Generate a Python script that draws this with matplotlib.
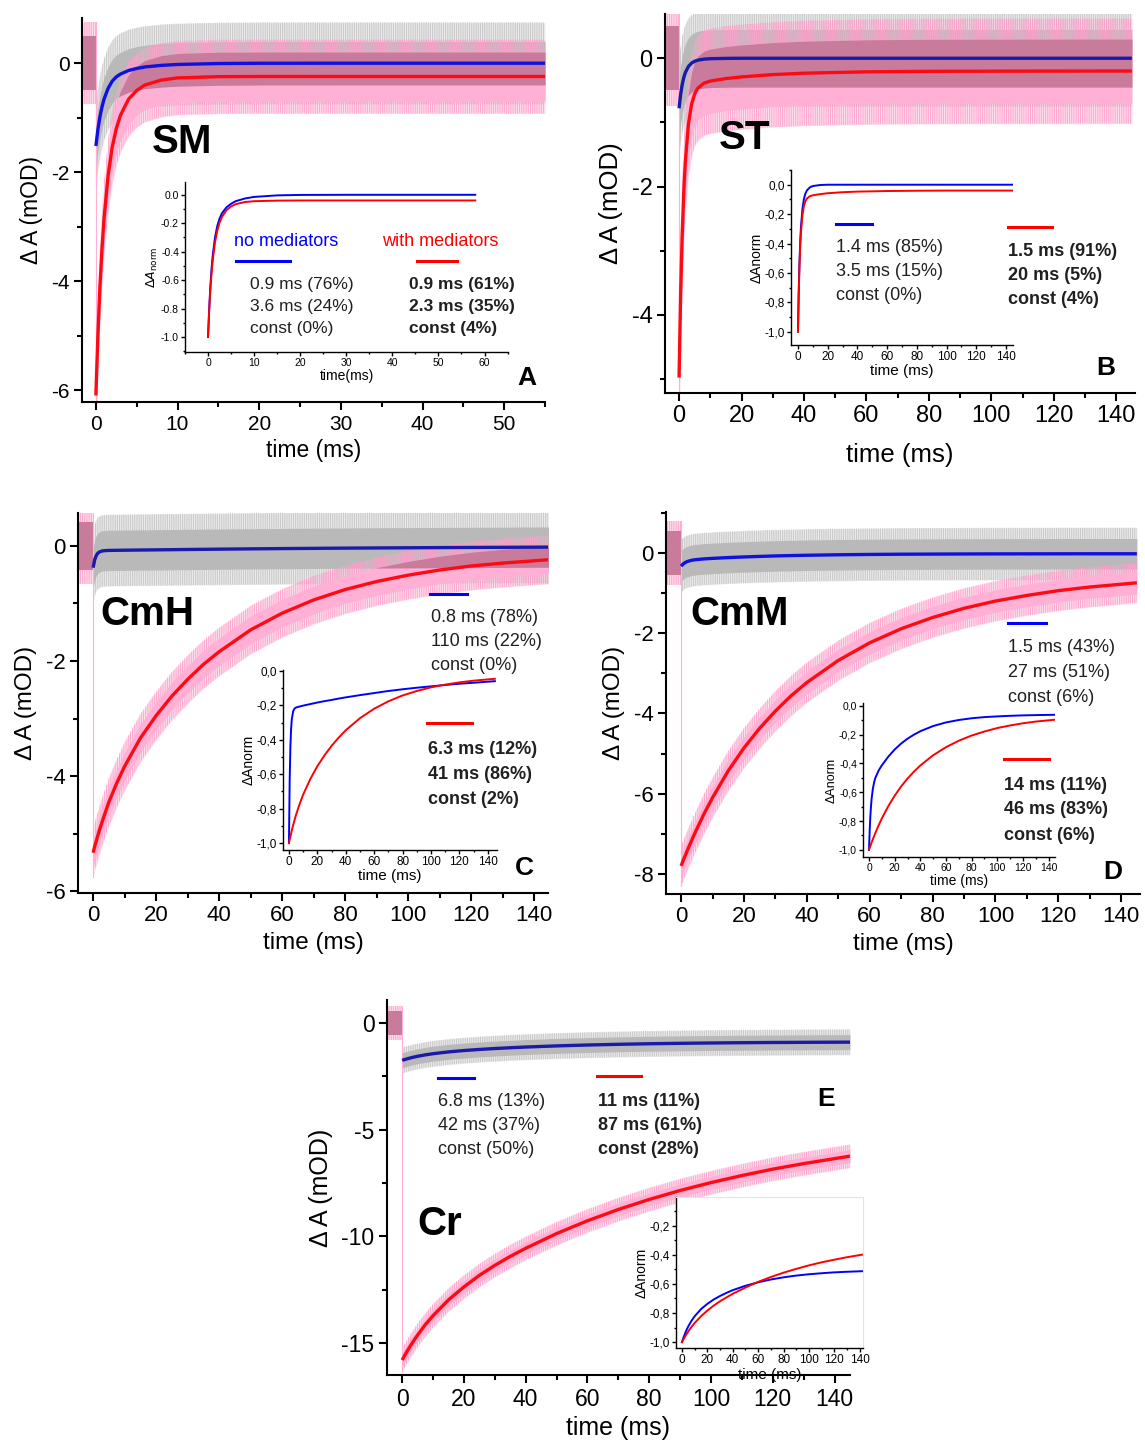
import numpy as np
import matplotlib
matplotlib.use('Agg')
import matplotlib.pyplot as plt
from matplotlib.ticker import MultipleLocator, FuncFormatter
from matplotlib.lines import Line2D

plt.rcParams['font.family'] = ['Liberation Sans', 'DejaVu Sans']
plt.rcParams['axes.unicode_minus'] = False
plt.rcParams['hatch.linewidth'] = 0.6

W, H = 1145, 1442

# ---- data (time in ms, signal in mOD) ----
# panel A (SM)
A_t = [0, 0.25, 0.5, 0.75, 1, 1.5, 2, 2.5, 3, 4, 5, 6, 8, 10, 15, 20, 30, 55]
A_blue = [-1.52, -1.215, -0.98, -0.80, -0.66, -0.46, -0.33, -0.25, -0.20, -0.134, -0.096,
          -0.069, -0.04, -0.023, -0.006, -0.001, 0, 0]
A_red = [-6.1, -4.98, -4.09, -3.40, -2.85, -2.06, -1.54, -1.20, -0.96, -0.66, -0.50,
         -0.40, -0.31, -0.27, -0.247, -0.244, -0.244, -0.244]
A_in_t = [0, 0.25, 0.5, 0.75, 1, 1.5, 2, 2.5, 3, 4, 5, 6, 8, 10, 15, 20, 30, 58]
A_in_blue = [-1, -0.80, -0.645, -0.525, -0.432, -0.302, -0.22, -0.167, -0.131, -0.088,
             -0.063, -0.045, -0.026, -0.015, -0.004, -0.001, 0, 0]
A_in_red = [-1, -0.816, -0.671, -0.558, -0.467, -0.337, -0.253, -0.196, -0.157, -0.108,
            -0.082, -0.066, -0.051, -0.045, -0.041, -0.04, -0.04, -0.04]

# panel B (ST)
B_t = [0, 0.5, 1, 1.5, 2, 3, 4, 5, 6, 8, 10, 15, 20, 30, 40, 60, 80, 100, 145]
B_blue = [-0.78, -0.566, -0.413, -0.303, -0.225, -0.128, -0.076, -0.047, -0.030, -0.014,
          -0.007, -0.002, 0, 0, 0, 0, 0, 0, 0]
B_red = [-4.98, -3.69, -2.76, -2.10, -1.62, -1.03, -0.72, -0.555, -0.467, -0.388, -0.356,
         -0.317, -0.291, -0.255, -0.233, -0.212, -0.204, -0.202, -0.199]
B_in_blue = [-1, -0.725, -0.529, -0.389, -0.289, -0.164, -0.097, -0.060, -0.039, -0.018,
             -0.009, -0.002, 0, 0, 0, 0, 0, 0, 0]
B_in_red = [-1, -0.741, -0.555, -0.421, -0.325, -0.206, -0.144, -0.112, -0.094, -0.078,
            -0.072, -0.064, -0.058, -0.051, -0.047, -0.043, -0.041, -0.040, -0.040]

# panels C, D, E share one time grid
t_slow = [0, 0.5, 1, 1.5, 2, 3, 4, 5, 7.5, 10, 15, 20, 25, 30, 35, 40, 50, 60, 70, 80,
          90, 100, 110, 120, 130, 145]

C_blue = [-0.38, -0.242, -0.168, -0.128, -0.106, -0.088, -0.0825, -0.080, -0.078, -0.076,
          -0.073, -0.070, -0.067, -0.064, -0.061, -0.058, -0.053, -0.048, -0.044, -0.040,
          -0.037, -0.034, -0.031, -0.028, -0.026, -0.022]
C_red = [-5.33, -5.22, -5.13, -5.03, -4.94, -4.77, -4.61, -4.45, -4.12, -3.83, -3.34, -2.95,
         -2.61, -2.32, -2.06, -1.84, -1.46, -1.17, -0.94, -0.76, -0.62, -0.51, -0.42, -0.35,
         -0.30, -0.24]
C_in_blue = [-1, -0.636, -0.442, -0.336, -0.280, -0.232, -0.217, -0.212, -0.206, -0.201,
             -0.192, -0.183, -0.175, -0.168, -0.160, -0.153, -0.140, -0.128, -0.116, -0.106,
             -0.097, -0.089, -0.081, -0.074, -0.068, -0.059]
C_in_red = [-1, -0.980, -0.962, -0.944, -0.926, -0.894, -0.864, -0.835, -0.773, -0.718,
            -0.628, -0.553, -0.490, -0.435, -0.387, -0.344, -0.274, -0.219, -0.176, -0.142,
            -0.116, -0.095, -0.079, -0.066, -0.056, -0.045]

D_blue = [-0.33, -0.287, -0.255, -0.231, -0.214, -0.190, -0.175, -0.165, -0.148, -0.136,
          -0.116, -0.100, -0.087, -0.075, -0.066, -0.058, -0.046, -0.038, -0.032, -0.029,
          -0.026, -0.024, -0.023, -0.022, -0.021, -0.021]
D_red = [-7.8, -7.70, -7.60, -7.51, -7.41, -7.23, -7.05, -6.88, -6.47, -6.10, -5.43, -4.86,
         -4.37, -3.94, -3.56, -3.23, -2.68, -2.24, -1.89, -1.61, -1.38, -1.20, -1.06, -0.94,
         -0.85, -0.745]
D_in_blue = [-1, -0.869, -0.772, -0.701, -0.647, -0.575, -0.530, -0.499, -0.449, -0.413,
             -0.353, -0.303, -0.262, -0.228, -0.200, -0.176, -0.140, -0.115, -0.098, -0.086,
             -0.078, -0.073, -0.069, -0.066, -0.064, -0.062]
D_in_red = [-1, -0.987, -0.975, -0.962, -0.950, -0.926, -0.904, -0.882, -0.830, -0.782,
            -0.697, -0.624, -0.560, -0.505, -0.457, -0.414, -0.343, -0.287, -0.242, -0.206,
            -0.178, -0.154, -0.136, -0.121, -0.109, -0.096]

E_blue = [-1.75, -1.726, -1.704, -1.682, -1.662, -1.624, -1.590, -1.559, -1.492, -1.438,
          -1.353, -1.289, -1.238, -1.195, -1.158, -1.125, -1.072, -1.030, -0.997, -0.971,
          -0.951, -0.935, -0.922, -0.912, -0.904, -0.895]
E_red = [-15.8, -15.67, -15.54, -15.41, -15.29, -15.06, -14.84, -14.63, -14.14, -13.72,
         -12.98, -12.37, -11.83, -11.36, -10.94, -10.56, -9.87, -9.27, -8.74, -8.27, -7.85,
         -7.48, -7.15, -6.85, -6.59, -6.24]
E_in_blue = [-1, -0.986, -0.974, -0.961, -0.950, -0.928, -0.909, -0.891, -0.853, -0.822,
             -0.773, -0.737, -0.707, -0.683, -0.662, -0.643, -0.613, -0.589, -0.570, -0.555,
             -0.543, -0.534, -0.527, -0.521, -0.517, -0.512]
E_in_red = [-1, -0.992, -0.983, -0.976, -0.968, -0.953, -0.939, -0.926, -0.895, -0.868,
            -0.822, -0.783, -0.749, -0.719, -0.693, -0.668, -0.625, -0.586, -0.553, -0.523,
            -0.497, -0.473, -0.452, -0.434, -0.417, -0.395]

# noise half-widths (core, spikes) of the raw traces, and of the pre-trigger part
A_noise = dict(gray=(0.40, 0.75), pink=(0.45, 0.68), pre=0.5)
B_noise = dict(gray=(0.45, 0.75), pink=(0.50, 0.82), pre=0.5)
C_noise = dict(gray=(0.35, 0.62), pink=(0.24, 0.42), pre=0.42)
D_noise = dict(gray=(0.38, 0.65), pink=(0.28, 0.50), pre=0.55)
E_noise = dict(gray=(0.35, 0.60), pink=(0.30, 0.55), pre=0.55)

# fit results printed in the panels
A_fit_blue = ["0.9 ms (76%)", "3.6 ms (24%)", "const (0%)"]
A_fit_red = ["0.9 ms (61%)", "2.3 ms (35%)", "const (4%)"]
B_fit_blue = ["1.4 ms (85%)", "3.5 ms (15%)", "const (0%)"]
B_fit_red = ["1.5 ms (91%)", "20 ms (5%)", "const (4%)"]
C_fit_blue = ["0.8 ms (78%)", "110 ms (22%)", "const (0%)"]
C_fit_red = ["6.3 ms (12%)", "41 ms (86%)", "const (2%)"]
D_fit_blue = ["1.5 ms (43%)", "27 ms (51%)", "const (6%)"]
D_fit_red = ["14 ms (11%)", "46 ms (83%)", "const (6%)"]
E_fit_blue = ["6.8 ms (13%)", "42 ms (37%)", "const (50%)"]
E_fit_red = ["11 ms (11%)", "87 ms (61%)", "const (28%)"]

GRAY = '#b9b9b9'
GRAY_SPK = '#c4c4c4'
PINK = '#ffb0d4'
PINK_SPK = '#ffa0cc'
MAUVE = '#c97b9c'
BLUE = '#1010e0'
NAVY = '#1a1aa8'
RED = '#ff0a14'

fig = plt.figure(figsize=(W / 100, H / 100), dpi=100)


def px_box(l, t, r, b):
    return [l / W, 1 - b / H, (r - l) / W, (b - t) / H]


def ftext(x, y, s, **kw):
    kw.setdefault('va', 'center')
    fig.text(x / W, 1 - y / H, s, **kw)


def swatch(x1, x2, y, color):
    fig.add_artist(Line2D([x1 / W, x2 / W], [1 - y / H] * 2, transform=fig.transFigure,
                          color=color, lw=2.2))


def style(ax, xmaj, ymaj, size, lw, length, pad=3):
    for s in ['top', 'right']:
        ax.spines[s].set_visible(False)
    for s in ['left', 'bottom']:
        ax.spines[s].set_linewidth(lw)
    ax.xaxis.set_major_locator(MultipleLocator(xmaj))
    ax.xaxis.set_minor_locator(MultipleLocator(xmaj / 2))
    ax.yaxis.set_major_locator(MultipleLocator(ymaj))
    ax.yaxis.set_minor_locator(MultipleLocator(ymaj / 2))
    ax.tick_params(which='major', direction='out', length=length, width=lw,
                   labelsize=size, pad=pad)
    ax.tick_params(which='minor', direction='out', length=length * 0.55, width=lw)


def hatched(ax, x, lo, hi, color):
    # spiky outer part of a noisy trace: faint fill plus dense vertical strokes
    ax.fill_between(x, lo, hi, color=color, alpha=0.3, lw=0)
    with plt.rc_context({'hatch.color': color}):
        ax.fill_between(x, lo, hi, facecolor='none', edgecolor=color, hatch='|||||||||', lw=0)


def traces(ax, t, blue, red, noise, x0, bcol):
    t = np.asarray(t, float)
    b = np.asarray(blue, float)
    r = np.asarray(red, float)
    ga, gs = noise['gray']
    pa, ps = noise['pink']
    pre = noise['pre']
    hatched(ax, t, b - gs, b + gs, GRAY_SPK)
    ax.fill_between(t, b - ga, b + ga, color=GRAY, lw=0)
    hatched(ax, t, r - ps, r + ps, PINK_SPK)
    ax.fill_between(t, r - pa, r + pa, color=PINK, lw=0)
    lo = np.maximum(b - ga, r - pa)
    hi = np.minimum(b + ga, r + pa)
    ax.fill_between(t, lo, hi, where=hi > lo, interpolate=True, color=MAUVE, lw=0)
    hatched(ax, [x0, 0], [-pre - 0.25] * 2, [pre + 0.25] * 2, PINK_SPK)
    ax.fill_between([x0, 0], [-pre] * 2, [pre] * 2, color=MAUVE, lw=0)
    ax.plot([0, 0], [r[0] - ps, pre + 0.25], color=PINK, lw=0.8)
    ax.plot(t, b, color=bcol, lw=2.4, solid_capstyle='butt')
    ax.plot(t, r, color=RED, lw=2.4, solid_capstyle='butt')


def main_axes(box, t, blue, red, noise, xlim, ylim, xmaj, ymaj, fs, xpad=4, bcol=BLUE):
    ax = fig.add_axes(px_box(*box))
    traces(ax, t, blue, red, noise, xlim[0], bcol)
    ax.set_xlim(*xlim)
    ax.set_ylim(*ylim)
    style(ax, xmaj, ymaj, fs, 1.5, 6)
    ax.set_xlabel('time (ms)', fontsize=fs + 1.5, labelpad=xpad)
    ax.set_ylabel('\u0394 A (mOD)', fontsize=fs + 1.5, labelpad=6)
    return ax


comma = FuncFormatter(lambda v, p: f'{v + 0.0:.1f}'.replace('.', ','))


def inset_axes(box, t, blue, red, xlim, ylim, xmaj, ylab, xlab, fs, fmt=None,
               frame=False, xpad=1):
    ax = fig.add_axes(px_box(*box))
    ax.set_facecolor('white')
    ax.plot(t, blue, color='#0000ff', lw=1.4)
    ax.plot(t, red, color='#ff0000', lw=1.4)
    ax.set_xlim(*xlim)
    ax.set_ylim(*ylim)
    style(ax, xmaj, 0.2, fs, 1.0, 2.8, pad=1.5)
    if fmt is not None:
        ax.yaxis.set_major_formatter(fmt)
    if frame:
        for s in ['top', 'right']:
            ax.spines[s].set_visible(True)
            ax.spines[s].set_color('#e4e4e4')
            ax.spines[s].set_linewidth(0.8)
    ax.set_ylabel(ylab, fontsize=fs + 1.5, labelpad=1)
    ax.set_xlabel(xlab, fontsize=fs + 2.5, labelpad=xpad)
    return ax


def fit_block(x, y0, dy, lines, bold, fs=12.5):
    for i, s in enumerate(lines):
        ftext(x, y0 + i * dy, s, fontsize=fs, ha='left',
              fontweight='bold' if bold else 'normal', color='#202020')


# ---- panel A ----
main_axes((82, 18, 545, 402), A_t, A_blue, A_red, A_noise, (-1.7, 55), (-6.22, 0.83), 10, 2, 15)
inset_axes((185, 182, 508, 352), A_in_t, A_in_blue, A_in_red, (-5, 65.1), (-1.106, 0.09),
           10, r'$\Delta A_{\rm norm}$', 'time(ms)', 7.5)
ftext(182, 142, 'SM', fontsize=29, fontweight='bold', ha='center')
ftext(527, 378, 'A', fontsize=19, fontweight='bold', ha='center')
ftext(286, 242, 'no mediators', fontsize=13, color='#0000ff', ha='center')
ftext(440, 242, 'with mediators', fontsize=13, color='#ff0000', ha='center')
swatch(236, 290, 261, '#0000ff')
swatch(417, 457, 261, '#ff0000')
fit_block(250, 285, 22, A_fit_blue, False)
fit_block(409, 285, 22, A_fit_red, True)

# ---- panel B ----
main_axes((665, 14, 1135, 393), B_t, B_blue, B_red, B_noise, (-4.5, 146), (-5.22, 0.69), 20, 2,
          17, xpad=11, bcol=NAVY)
inset_axes((791, 170, 1013, 345), B_t, B_in_blue, B_in_red, (-4.7, 144.7), (-1.09, 0.10),
           20, '\u0394Anorm', 'time (ms)', 8.5, comma)
ftext(745, 138, 'ST', fontsize=29, fontweight='bold', ha='center')
ftext(1106, 368, 'B', fontsize=19, fontweight='bold', ha='center')
swatch(836, 872, 224, '#0000ff')
swatch(1008, 1052, 227, '#ff0000')
fit_block(836, 248, 24, B_fit_blue, False, 13)
fit_block(1008, 252, 24, B_fit_red, True, 13)

# ---- panel C ----
main_axes((78, 513, 548, 893), t_slow, C_blue, C_red, C_noise, (-4.8, 144.4), (-6.03, 0.57), 20, 2,
          16, bcol=NAVY)
inset_axes((283, 670, 497, 850), t_slow, C_in_blue, C_in_red, (-4.2, 146.5), (-1.04, 0.006),
           20, '\u0394Anorm', 'time (ms)', 8.5, comma)
ftext(147, 614, 'CmH', fontsize=29, fontweight='bold', ha='center')
ftext(524, 868, 'C', fontsize=19, fontweight='bold', ha='center')
swatch(430, 467, 594, '#0000ff')
swatch(427, 472, 723, '#ff0000')
fit_block(431, 617, 24.5, C_fit_blue, False, 13)
fit_block(428, 749, 25.5, C_fit_red, True, 13)

# ---- panel D ----
main_axes((666, 512, 1140, 894), t_slow, D_blue, D_red, D_noise, (-4.8, 146), (-8.5, 1.02), 20, 2,
          16)
inset_axes((863, 703, 1055, 857), t_slow, D_in_blue, D_in_red, (-4.7, 145), (-1.05, 0.02),
           20, '\u0394Anorm', 'time (ms)', 7.5, comma)
ftext(740, 614, 'CmM', fontsize=29, fontweight='bold', ha='center')
ftext(1113, 872, 'D', fontsize=19, fontweight='bold', ha='center')
swatch(1008, 1046, 623, '#0000ff')
swatch(1004, 1049, 759, '#ff0000')
fit_block(1008, 648, 24.5, D_fit_blue, False, 13)
fit_block(1004, 785, 25, D_fit_red, True, 13)

# ---- panel E ----
main_axes((387, 1000, 850, 1375), t_slow, E_blue, E_red, E_noise, (-4.9, 145), (-16.5, 1.08), 20, 5,
          16.5, bcol=NAVY)
inset_axes((676, 1197, 863, 1348), t_slow, E_in_blue, E_in_red, (-4.7, 142.5), (-1.04, -0.004),
           20, '\u0394Anorm', 'time (ms)', 8.5, comma, frame=True, xpad=1.5)
ftext(440, 1224, 'Cr', fontsize=29, fontweight='bold', ha='center')
ftext(826, 1099, 'E', fontsize=19, fontweight='bold', ha='center')
swatch(438, 474, 1078, '#0000ff')
swatch(597, 641, 1076, '#ff0000')
fit_block(438, 1101, 24, E_fit_blue, False, 13)
fit_block(598, 1101, 24, E_fit_red, True, 13)

fig.savefig('out.png', dpi=100, facecolor='white')
